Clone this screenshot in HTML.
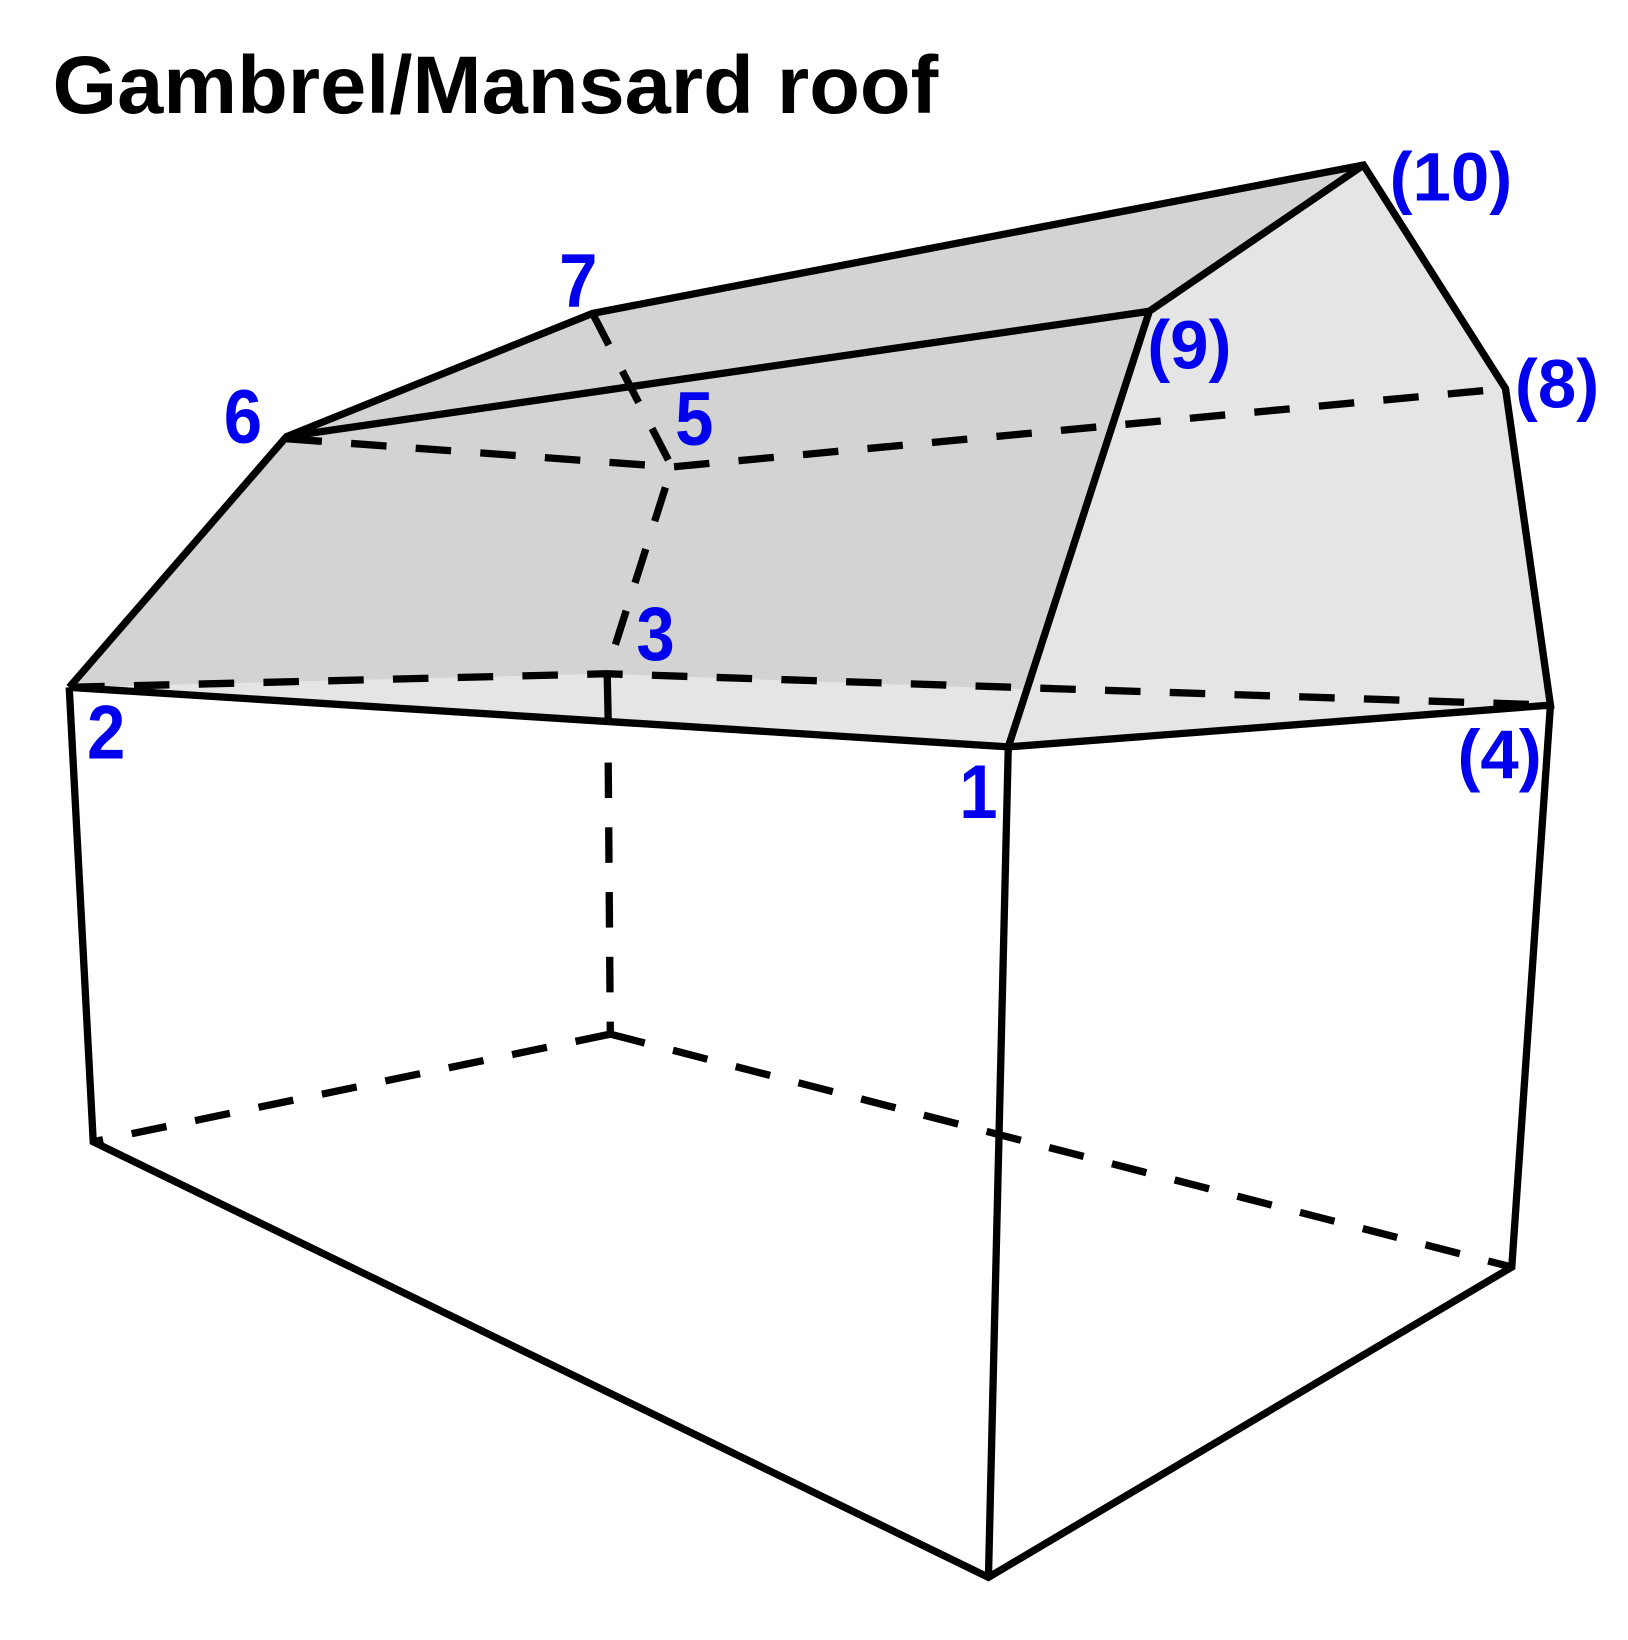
<!DOCTYPE html>
<html><head><style>html,body{margin:0;padding:0;background:#fff}svg{display:block}</style></head>
<body>
<svg width="1628" height="1640" viewBox="0 0 1558 1570" xmlns="http://www.w3.org/2000/svg">
<g stroke="none">
<polygon points="66,658 580,645 1484,675 965,715" fill="#e5e5e5"/>
<polygon points="965,715 1100,298 1305,158 1441,372 1484,675" fill="#e5e5e5"/>
<polygon points="66,658 274,418 1100,298 983,660 580,645" fill="#d3d3d3"/>
<polygon points="274,418 567,300 1305,158 1100,298" fill="#d3d3d3"/>
</g>
<g fill="none" stroke="#000" stroke-width="7" stroke-dasharray="34,28">
<polyline points="274,420 643,447 1441,372"/>
<polyline points="567,300 643,447 580,645"/>
<polyline points="66,658 580,645 1484,675"/>
<polyline points="584,990 89,1093"/>
<polyline points="584,990 1447,1213"/>
<polyline points="582,730 584,990"/>
</g>
<g fill="none" stroke="#000" stroke-width="7" stroke-linejoin="miter">
<line x1="581" y1="645" x2="582" y2="690"/>
<polyline points="66,658 274,418 567,300 1305,158 1441,372 1484,675 965,715 66,658"/>
<polyline points="274,418 1100,298 1305,158"/>
<polyline points="1100,298 965,715 946,1510"/>
<polyline points="66,658 89,1093 946,1510 1447,1213 1484,675"/>
</g>
<text x="50" y="108" font-family="Liberation Sans, sans-serif" font-weight="bold" font-size="78" textLength="848" lengthAdjust="spacingAndGlyphs" fill="#000">Gambrel/Mansard roof</text>
<g font-family="Liberation Sans, sans-serif" font-weight="bold" font-size="66" fill="#0000ee">
<text x="1330" y="192">(10)</text>
<text x="1450" y="390">(8)</text>
<text x="1098" y="353">(9)</text>
<text x="1395" y="745">(4)</text>
</g>
<g font-family="Liberation Sans, sans-serif" font-weight="bold" font-size="66" fill="#0000ee">
<text transform="translate(535,294) scale(1,1.1)">7</text>
<text transform="translate(214,424) scale(1,1.1)">6</text>
<text transform="translate(646,426) scale(1,1.1)">5</text>
<text transform="translate(609,632) scale(1,1.1)">3</text>
<text transform="translate(83,726) scale(1,1.1)">2</text>
<text transform="translate(918,783) scale(1,1.1)">1</text>
</g>
</svg>
</body></html>
